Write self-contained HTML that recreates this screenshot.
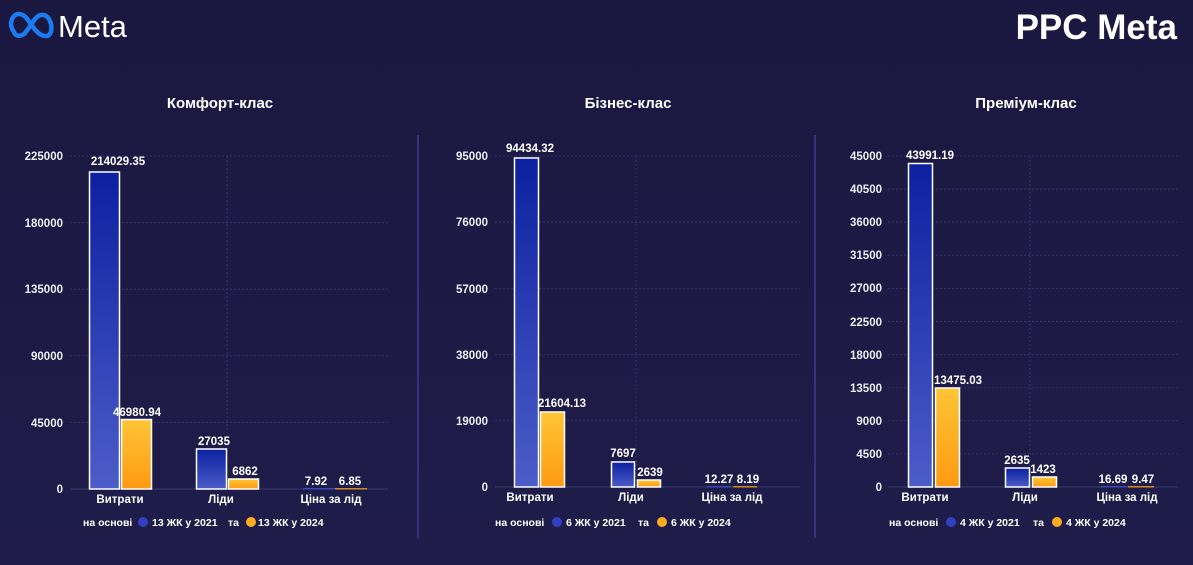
<!DOCTYPE html>
<html><head><meta charset="utf-8"><style>
html,body{margin:0;padding:0;background:#1c1a42;}
svg{display:block;font-family:"Liberation Sans","DejaVu Sans",sans-serif;}
.t{fill:#fff;font-weight:bold;font-size:15px;text-anchor:middle}
.y{fill:#fff;font-size:11.5px;text-anchor:end;font-weight:bold;fill-opacity:0.92}
.v{fill:#fff;font-size:11.5px;font-weight:bold;text-anchor:middle}
.c{fill:#fff;font-size:11.5px;font-weight:bold;text-anchor:middle}
.l{fill:#fff;font-size:10.5px;font-weight:bold}
.g{stroke:#34336a;stroke-width:1;stroke-dasharray:2,2}
.b{stroke:#fff;stroke-width:1.5}
</style></head><body>
<svg width="1193" height="565" viewBox="0 0 1193 565">
<defs>
<linearGradient id="bl" x1="0" y1="0" x2="0" y2="1"><stop offset="0" stop-color="#0c20a0"/><stop offset="1" stop-color="#4c5cc8"/></linearGradient>
<linearGradient id="or" x1="0" y1="0" x2="0" y2="1"><stop offset="0" stop-color="#ffc535"/><stop offset="1" stop-color="#ff9a12"/></linearGradient>
<linearGradient id="bg" x1="0" y1="0" x2="0" y2="1"><stop offset="0" stop-color="#1a1840"/><stop offset="1" stop-color="#1f1c4a"/></linearGradient>
</defs>
<rect width="1193" height="565" fill="url(#bg)"/>
<path d="M14,32 C8,24 12,14 19,14 C26,14 30,24 33,27 C36,31 40,36 46,36 C52,36 53,26 49,19 C46,14 40,13 35,19 C32,23 28,30 24,34 C20,37 15,36 14,32 Z" fill="none" stroke="#1a7cf0" stroke-width="4.5"/>
<text x="58" y="37" fill="#fff" font-size="31" font-family="Liberation Sans,sans-serif">Meta</text>
<text x="1177" y="39" fill="#fff" font-size="35" font-weight="bold" text-anchor="end">PPC Meta</text>
<line x1="418" y1="135" x2="418" y2="538" stroke="#3a2f80" stroke-width="2"/>
<line x1="815" y1="135" x2="815" y2="538" stroke="#3a2f80" stroke-width="2"/>

<text class="t" x="220" y="108">Комфорт-клас</text>
<g>
<line class="g" x1="70" y1="156" x2="388" y2="156"/>
<line class="g" x1="70" y1="222.6" x2="388" y2="222.6"/>
<line class="g" x1="70" y1="289.2" x2="388" y2="289.2"/>
<line class="g" x1="70" y1="355.8" x2="388" y2="355.8"/>
<line class="g" x1="70" y1="422.4" x2="388" y2="422.4"/>
<line x1="70" y1="489" x2="388" y2="489" stroke="#3c3a6a"/>
<line class="g" x1="227" y1="156" x2="227" y2="489"/>
<text class="y" x="63" y="160">225000</text>
<text class="y" x="63" y="227">180000</text>
<text class="y" x="63" y="293">135000</text>
<text class="y" x="63" y="360">90000</text>
<text class="y" x="63" y="427">45000</text>
<text class="y" x="63" y="493" font-size="9">0</text>
<rect class="b" x="89.5" y="172" width="30" height="317" fill="url(#bl)"/>
<rect class="b" x="121.5" y="419.5" width="30" height="69.5" fill="url(#or)"/>
<rect class="b" x="196.5" y="449" width="30" height="40" fill="url(#bl)"/>
<rect class="b" x="228.5" y="479" width="30" height="10" fill="url(#or)"/>
<rect x="303" y="488" width="32" height="1.5" fill="#3a48c0"/>
<rect x="335" y="488" width="32" height="1.5" fill="#d08a20"/>
<text class="v" x="118" y="165">214029.35</text>
<text class="v" x="137" y="416">46980.94</text>
<text class="v" x="214" y="445">27035</text>
<text class="v" x="245" y="475">6862</text>
<text class="v" x="316" y="485">7.92</text>
<text class="v" x="350" y="485">6.85</text>
<text class="c" x="120" y="503">Витрати</text>
<text class="c" x="221" y="503">Ліди</text>
<text class="c" x="331" y="503">Ціна за лід</text>
<text class="l" x="83" y="526">на основі</text>
<circle cx="143" cy="522" r="5" fill="#3040c0"/>
<text class="l" x="152" y="526">13 ЖК у 2021</text>
<text class="l" x="228" y="526">та</text>
<circle cx="251" cy="522" r="5" fill="#ffab20"/>
<text class="l" x="258" y="526">13 ЖК у 2024</text>
</g>

<text class="t" x="628" y="108">Бізнес-клас</text>
<g>
<line class="g" x1="495" y1="156" x2="800" y2="156"/>
<line class="g" x1="495" y1="222.2" x2="800" y2="222.2"/>
<line class="g" x1="495" y1="288.4" x2="800" y2="288.4"/>
<line class="g" x1="495" y1="354.6" x2="800" y2="354.6"/>
<line class="g" x1="495" y1="420.8" x2="800" y2="420.8"/>
<line x1="495" y1="487" x2="800" y2="487" stroke="#3c3a6a"/>
<line class="g" x1="636" y1="156" x2="636" y2="487"/>
<text class="y" x="488" y="160">95000</text>
<text class="y" x="488" y="226">76000</text>
<text class="y" x="488" y="293">57000</text>
<text class="y" x="488" y="359">38000</text>
<text class="y" x="488" y="425">19000</text>
<text class="y" x="488" y="491">0</text>
<rect class="b" x="514.5" y="158" width="24" height="329" fill="url(#bl)"/>
<rect class="b" x="540.5" y="412" width="24" height="75" fill="url(#or)"/>
<rect class="b" x="611.5" y="462" width="23" height="25" fill="url(#bl)"/>
<rect class="b" x="637.5" y="480" width="23" height="7" fill="url(#or)"/>
<rect x="707" y="486" width="24" height="1.5" fill="#3a48c0"/>
<rect x="733" y="486" width="24" height="1.5" fill="#d08a20"/>
<text class="v" x="530" y="152">94434.32</text>
<text class="v" x="562" y="407">21604.13</text>
<text class="v" x="623" y="457">7697</text>
<text class="v" x="650" y="476">2639</text>
<text class="v" x="719" y="483">12.27</text>
<text class="v" x="748" y="483">8.19</text>
<text class="c" x="530" y="501">Витрати</text>
<text class="c" x="631" y="501">Ліди</text>
<text class="c" x="732" y="501">Ціна за лід</text>
<text class="l" x="495" y="526">на основі</text>
<circle cx="557" cy="522" r="5" fill="#3040c0"/>
<text class="l" x="566" y="526">6 ЖК  у 2021</text>
<text class="l" x="638" y="526">та</text>
<circle cx="662" cy="522" r="5" fill="#ffab20"/>
<text class="l" x="671" y="526">6 ЖК  у 2024</text>
</g>

<text class="t" x="1026" y="108">Преміум-клас</text>
<g>
<line class="g" x1="888" y1="156" x2="1178" y2="156"/>
<line class="g" x1="888" y1="189.1" x2="1178" y2="189.1"/>
<line class="g" x1="888" y1="222.2" x2="1178" y2="222.2"/>
<line class="g" x1="888" y1="255.3" x2="1178" y2="255.3"/>
<line class="g" x1="888" y1="288.4" x2="1178" y2="288.4"/>
<line class="g" x1="888" y1="321.5" x2="1178" y2="321.5"/>
<line class="g" x1="888" y1="354.6" x2="1178" y2="354.6"/>
<line class="g" x1="888" y1="387.7" x2="1178" y2="387.7"/>
<line class="g" x1="888" y1="420.8" x2="1178" y2="420.8"/>
<line class="g" x1="888" y1="453.9" x2="1178" y2="453.9"/>
<line x1="888" y1="487" x2="1178" y2="487" stroke="#3c3a6a"/>
<line class="g" x1="1030" y1="156" x2="1030" y2="487"/>
<text class="y" x="882" y="160">45000</text>
<text class="y" x="882" y="193">40500</text>
<text class="y" x="882" y="226">36000</text>
<text class="y" x="882" y="259">31500</text>
<text class="y" x="882" y="292">27000</text>
<text class="y" x="882" y="326">22500</text>
<text class="y" x="882" y="359">18000</text>
<text class="y" x="882" y="392">13500</text>
<text class="y" x="882" y="425">9000</text>
<text class="y" x="882" y="458">4500</text>
<text class="y" x="882" y="491">0</text>
<rect class="b" x="908.5" y="163.5" width="24" height="323.5" fill="url(#bl)"/>
<rect class="b" x="935.5" y="388" width="24" height="99" fill="url(#or)"/>
<rect class="b" x="1005.5" y="468" width="24" height="19" fill="url(#bl)"/>
<rect class="b" x="1032.5" y="477" width="24" height="10" fill="url(#or)"/>
<rect x="1101" y="486" width="26" height="1.5" fill="#3a48c0"/>
<rect x="1128" y="486" width="26" height="1.5" fill="#d08a20"/>
<text class="v" x="930" y="159">43991.19</text>
<text class="v" x="958" y="384">13475.03</text>
<text class="v" x="1017" y="464">2635</text>
<text class="v" x="1043" y="473">1423</text>
<text class="v" x="1113" y="483">16.69</text>
<text class="v" x="1143" y="483">9.47</text>
<text class="c" x="925" y="501">Витрати</text>
<text class="c" x="1025" y="501">Ліди</text>
<text class="c" x="1127" y="501">Ціна за лід</text>
<text class="l" x="889" y="526">на основі</text>
<circle cx="951" cy="522" r="5" fill="#3040c0"/>
<text class="l" x="960" y="526">4 ЖК  у 2021</text>
<text class="l" x="1033" y="526">та</text>
<circle cx="1057" cy="522" r="5" fill="#ffab20"/>
<text class="l" x="1066" y="526">4 ЖК  у 2024</text>
</g>
</svg>
</body></html>
